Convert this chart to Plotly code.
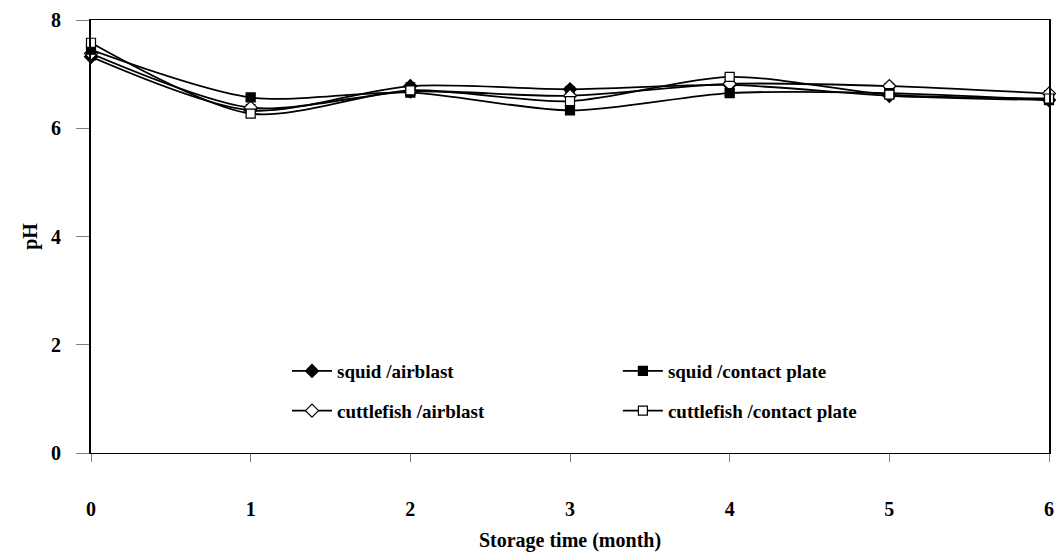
import plotly.graph_objects as go

# Storage time (months) and pH readings for each fish / freezing method
months = [0, 1, 2, 3, 4, 5, 6]

squid_airblast = [7.32, 6.33, 6.78, 6.72, 6.80, 6.60, 6.52]
squid_contact = [7.45, 6.57, 6.66, 6.33, 6.65, 6.65, 6.52]
cuttle_airblast = [7.38, 6.38, 6.68, 6.60, 6.82, 6.78, 6.64]
cuttle_contact = [7.58, 6.27, 6.70, 6.50, 6.95, 6.62, 6.55]

# Standard deviations shown as error bars
sd_squid_airblast = [0.06, 0.06, 0.06, 0.05, 0.06, 0.05, 0.05]
sd_squid_contact = [0.06, 0.05, 0.05, 0.05, 0.05, 0.05, 0.05]
sd_cuttle_airblast = [0.05, 0.06, 0.05, 0.05, 0.05, 0.05, 0.05]
sd_cuttle_contact = [0.06, 0.07, 0.05, 0.05, 0.05, 0.05, 0.05]

names = ["squid /airblast", "squid /contact plate",
         "cuttlefish /airblast", "cuttlefish /contact plate"]

FONT = "Liberation Serif"
FS_AXIS = 20
FS_LEGEND = 19

series = [
    (names[0], squid_airblast, sd_squid_airblast, "diamond", "black", "legend"),
    (names[2], cuttle_airblast, sd_cuttle_airblast, "diamond", "white", "legend"),
    (names[1], squid_contact, sd_squid_contact, "square", "black", "legend2"),
    (names[3], cuttle_contact, sd_cuttle_contact, "square", "white", "legend2"),
]

fig = go.Figure()
for name, vals, sd, sym, fill, leg in series:
    fig.add_trace(go.Scatter(
        x=months, y=vals, name=name, mode="lines+markers",
        line=dict(color="black", width=1.8, shape="spline", smoothing=0.8),
        marker=dict(symbol=sym, size=10 if sym == "diamond" else 9,
                    color=fill, line=dict(color="black", width=1.2)),
        error_y=dict(type="data", array=sd, visible=True,
                     color="black", thickness=1, width=5),
        cliponaxis=False, legend=leg, legendgroup=name,
    ))

legend_style = dict(
    font=dict(family=FONT, size=FS_LEGEND, color="black", weight="bold"),
    bgcolor="rgba(0,0,0,0)", borderwidth=0,
    xanchor="left", yanchor="top", tracegroupgap=12,
    itemwidth=40,
)

fig.update_layout(
    width=1060, height=554,
    margin=dict(l=91, r=6, t=20, b=101),
    plot_bgcolor="white", paper_bgcolor="white",
    font=dict(family=FONT, size=FS_AXIS, color="black"),
    showlegend=True,
    legend=dict(x=0.2046, y=0.233, **legend_style),
    legend2=dict(x=0.550, y=0.233, **legend_style),
    xaxis=dict(
        range=[0, 6], tickmode="array", tickvals=months,
        ticks="outside", ticklen=8, tickcolor="#808080", tickwidth=1,
        ticklabelstandoff=30,
        tickfont=dict(family=FONT, size=FS_AXIS, color="black", weight="bold"),
        showline=True, linecolor="black", linewidth=1, mirror=True,
        showgrid=False, zeroline=False,
        title=dict(text="<b>Storage time (month)</b>", standoff=13,
                   font=dict(family=FONT, size=FS_AXIS)),
    ),
    yaxis=dict(
        range=[0, 8], tickmode="linear", tick0=0, dtick=2,
        ticks="outside", ticklen=13, tickcolor="#808080", tickwidth=1,
        ticklabelstandoff=11,
        tickfont=dict(family=FONT, size=FS_AXIS, color="black", weight="bold"),
        showline=True, linecolor="black", linewidth=2, mirror=True,
        showgrid=False, zeroline=False,
        title=dict(text="<b>pH</b>", standoff=8,
                   font=dict(family=FONT, size=FS_AXIS)),
    ),
)

fig.write_html("out.html")
